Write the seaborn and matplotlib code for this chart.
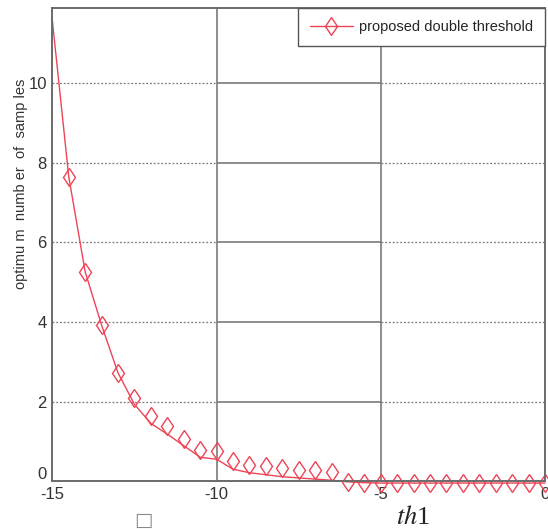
import numpy as np
import matplotlib
matplotlib.use("Agg")
import matplotlib.pyplot as plt
import matplotlib.transforms as mtransforms
import seaborn as sns
from matplotlib.lines import Line2D

# data
th_line = [-15, -14.5, -14, -13.5, -13, -12.5, -12, -11.5, -11, -10.5, -10,
           -9.5, -9, -8.5, -8, -7.5, -7, -6.5, -6, -5.5, -5, -4.5, -4, -3.5,
           -3, -2.5, -2, -1.5, -1, -0.5, 0]
n_line = [11.58, 7.65, 5.26, 3.92, 2.72, 1.93, 1.45, 1.18, 0.89, 0.60, 0.55,
          0.30, 0.21, 0.16, 0.11, 0.08, 0.05, 0.02, -0.02, -0.04, -0.05, -0.05,
          -0.05, -0.05, -0.05, -0.05, -0.05, -0.05, -0.05, -0.05, -0.05]

th_mark = [-14.5, -14, -13.5, -13, -12.5, -12, -11.5, -11, -10.5, -10, -9.5,
           -9, -8.5, -8, -7.5, -7, -6.5, -6, -5.5, -5, -4.5, -4, -3.5, -3,
           -2.5, -2, -1.5, -1, -0.5, 0]
n_mark = [7.65, 5.26, 3.92, 2.72, 2.09, 1.64, 1.39, 1.06, 0.78, 0.75, 0.50,
          0.40, 0.37, 0.32, 0.29, 0.27, 0.23, -0.02, -0.04, -0.06, -0.06, -0.06,
          -0.06, -0.06, -0.06, -0.06, -0.06, -0.06, -0.06, -0.06]

y_ticks = [0, 2, 4, 6, 8, 10]
x_ticks = [-15, -10, -5, 0]

sns.set_style("white")
plt.rcParams["font.family"] = ["Liberation Sans", "DejaVu Sans"]
plt.rcParams["mathtext.fontset"] = "stix"

red = "#ee4455"
grid_c = "#7a7a7a"

fig = plt.figure(figsize=(5.48, 5.31), dpi=100)
ax = fig.add_axes([0.0955, 0.094, 0.899, 0.89])

# grid: vertical solid, horizontal dotted except middle block
for gx in [-10, -5]:
    ax.axvline(gx, color=grid_c, lw=1.2, zorder=0)
for gy in [2, 4, 6, 8, 10]:
    ax.hlines(gy, -15, -10, color=grid_c, lw=0.9, linestyles=(0, (1.5, 1.5)), zorder=0)
    ax.hlines(gy, -10, -5, color=grid_c, lw=1.2, zorder=0)
    ax.hlines(gy, -5, 0, color=grid_c, lw=0.9, linestyles=(0, (1.5, 1.5)), zorder=0)

sns.lineplot(x=th_line, y=n_line, ax=ax, color=red, lw=1.0, clip_on=False)
sns.lineplot(x=th_mark, y=n_mark, ax=ax, color=red, marker="d", markersize=9.5,
             markerfacecolor="none", markeredgecolor=red, markeredgewidth=1.0,
             linestyle="", clip_on=False)

ax.set_xlim(-15, 0)
ax.set_ylim(0, 11.88)
ax.set_xticks(x_ticks)
ax.set_xticklabels([str(v) for v in x_ticks])
ax.set_yticks(y_ticks)
ax.set_yticklabels([str(v) for v in y_ticks])
ax.tick_params(length=0, labelsize=12, colors="#333333", pad=4)

# the "0" on the y axis sits a little above the corner, as in the original
lab0 = ax.get_yticklabels()[0]
lab0.set_transform(lab0.get_transform() +
                   mtransforms.ScaledTranslation(0, 8 / 100, fig.dpi_scale_trans))

for s in ax.spines.values():
    s.set_color("#6a6a6a")
    s.set_linewidth(1.4)

ax.set_ylabel("optimu m  numb er  of  samp les", fontsize=10.5, color="#333333")
ax.yaxis.set_label_coords(-0.05, 0.63)

fig.text(143 / 548, 1 - 520 / 531, "\u25a1", fontsize=14, color="#888888",
         family="DejaVu Sans", ha="center", va="center")
fig.text(413 / 548, 1 - 518 / 531, r"$th$1", fontsize=19, color="#222222",
         family="Liberation Serif", ha="center", va="center")

handle = Line2D([], [], color=red, lw=1.0, marker="d", markersize=9.5,
                markerfacecolor="none", markeredgecolor=red)
leg = ax.legend([handle], ["proposed double threshold"], loc="upper right",
                fontsize=10.5, frameon=True, fancybox=False, borderaxespad=0,
                handlelength=3.0, handletextpad=0.4, borderpad=0.8, framealpha=1)
leg.get_frame().set_edgecolor("#555555")
leg.get_frame().set_linewidth(1.0)

fig.savefig("out.png", dpi=100)
